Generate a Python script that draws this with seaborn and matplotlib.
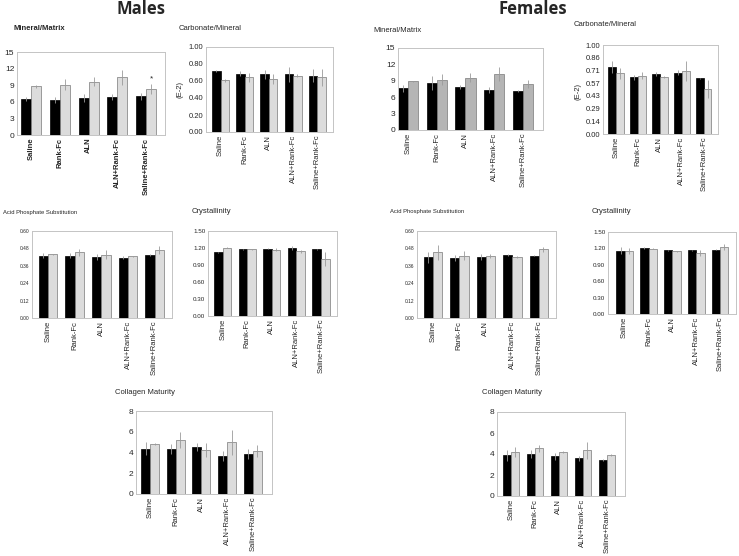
import numpy as np
import pandas as pd
import matplotlib
matplotlib.use("Agg")
import matplotlib.pyplot as plt
import seaborn as sns

# gruppi di trattamento
gruppi = ["Saline", "Rank-Fc", "ALN", "ALN+Rank-Fc", "Saline+Rank-Fc"]

# Maschi - valori (barra nera, barra grigia) e errori
m_minmat_a = [6.5, 6.3, 6.7, 6.85, 7.0]
m_minmat_b = [8.8, 9.1, 9.6, 10.4, 8.35]
m_minmat_ea = [0.3, 0.6, 0.7, 0.6, 0.6]
m_minmat_eb = [0.3, 1.0, 0.8, 1.3, 0.9]

m_carb_a = [0.718, 0.686, 0.678, 0.678, 0.663]
m_carb_b = [0.608, 0.643, 0.620, 0.663, 0.647]
m_carb_ea = [0.015, 0.03, 0.05, 0.09, 0.08]
m_carb_eb = [0.02, 0.05, 0.06, 0.02, 0.10]

m_aps_a = [0.431, 0.431, 0.418, 0.415, 0.434]
m_aps_b = [0.438, 0.452, 0.436, 0.425, 0.468]
m_aps_ea = [0.015, 0.015, 0.02, 0.01, 0.005]
m_aps_eb = [0.005, 0.025, 0.03, 0.003, 0.03]

m_cryst_a = [1.124, 1.176, 1.188, 1.200, 1.176]
m_cryst_b = [1.206, 1.176, 1.170, 1.140, 1.010]
m_cryst_ea = [0.01, 0.01, 0.01, 0.03, 0.01]
m_cryst_eb = [0.01, 0.01, 0.03, 0.02, 0.12]

m_coll_a = [4.38, 4.32, 4.54, 3.68, 3.84]
m_coll_b = [4.80, 5.20, 4.26, 4.99, 4.16]
m_coll_ea = [0.6, 0.5, 0.4, 0.5, 0.5]
m_coll_eb = [0.1, 0.8, 0.7, 1.2, 0.6]

# Femmine
f_minmat_a = [7.6, 8.6, 7.9, 7.3, 7.2]
f_minmat_b = [8.9, 9.2, 9.6, 10.3, 8.4]
f_minmat_ea = [0.6, 1.3, 0.4, 0.5, 0.2]
f_minmat_eb = [0.1, 1.0, 0.8, 1.3, 0.7]

f_carb_a = [0.750, 0.638, 0.675, 0.690, 0.627]
f_carb_b = [0.683, 0.657, 0.638, 0.709, 0.504]
f_carb_ea = [0.07, 0.03, 0.02, 0.03, 0.005]
f_carb_eb = [0.06, 0.04, 0.01, 0.11, 0.10]

f_aps_a = [0.418, 0.413, 0.418, 0.436, 0.431]
f_aps_b = [0.452, 0.429, 0.427, 0.420, 0.473]
f_aps_ea = [0.04, 0.02, 0.02, 0.005, 0.005]
f_aps_eb = [0.05, 0.03, 0.015, 0.005, 0.015]

f_cryst_a = [1.159, 1.207, 1.165, 1.165, 1.177]
f_cryst_b = [1.152, 1.195, 1.146, 1.116, 1.226]
f_cryst_ea = [0.06, 0.01, 0.01, 0.01, 0.01]
f_cryst_eb = [0.05, 0.01, 0.01, 0.06, 0.05]

f_coll_a = [3.86, 3.99, 3.77, 3.58, 3.45]
f_coll_b = [4.20, 4.53, 4.15, 4.37, 3.89]
f_coll_ea = [0.5, 0.4, 0.3, 0.2, 0.1]
f_coll_eb = [0.5, 0.3, 0.1, 0.8, 0.1]

W, H = 739, 556

sns.set_style("white")
plt.rcParams["font.family"] = ["Liberation Sans", "DejaVu Sans"]

fig = plt.figure(figsize=(W / 100, H / 100), dpi=100)


def box(l, r, t, b):
    return [l / W, 1 - b / H, (r - l) / W, (b - t) / H]


def pannello(rect, a, b, ea, eb, yticks, fmt, tick_fs, lab_fs=5.5,
             grigio="#dcdcdc", grassetto=False, xlim=(-0.6, 4.65)):
    ax = fig.add_axes(rect)
    df = pd.DataFrame({
        "gruppo": gruppi * 2,
        "serie": ["A"] * 5 + ["B"] * 5,
        "valore": list(a) + list(b),
    })
    sns.barplot(data=df, x="gruppo", y="valore", hue="serie",
                palette=["#000000", grigio], width=0.7, ax=ax,
                legend=False, errorbar=None, saturation=1)
    for cont, err, ec in zip(ax.containers, [ea, eb], ["#000000", "#7a7a7a"]):
        xs = []
        hs = []
        for p in cont:
            p.set_edgecolor(ec)
            p.set_linewidth(0.5)
            xs.append(p.get_x() + p.get_width() / 2)
            hs.append(p.get_height())
        ax.errorbar(xs, hs, yerr=err, fmt="none", ecolor="#9a9a9a",
                    elinewidth=0.6, capsize=0)
    ax.set_xlim(*xlim)
    ax.set_ylim(yticks[0], yticks[-1])
    ax.set_yticks(yticks)
    ax.set_yticklabels([fmt % v for v in yticks], fontsize=tick_fs)
    ax.set_xticks(range(5))
    ax.set_xticklabels(gruppi, rotation=90, fontsize=lab_fs,
                       fontweight="bold" if grassetto else "normal")
    ax.set_xlabel("")
    ax.set_ylabel("")
    ax.tick_params(axis="both", length=0, pad=2)
    for s in ax.spines.values():
        s.set_color("#c4c4c4")
        s.set_linewidth(0.7)
    return ax


def testo(x, y, s, **kw):
    fig.text(x / W, 1 - y / H, s, va="center", **kw)


# Maschi
ax1 = pannello(box(17, 165, 52, 135), m_minmat_a, m_minmat_b, m_minmat_ea,
               m_minmat_eb, [0, 3, 6, 9, 12, 15], "%d", 6, grassetto=True,
               xlim=(-0.5, 4.66))
g = ax1.containers[1][4]
ax1.text(g.get_x() + g.get_width() / 2, m_minmat_b[4] + m_minmat_eb[4] + 0.3,
         "*", ha="center", va="bottom", fontsize=6)
ax2 = pannello(box(206, 333, 47, 132), m_carb_a, m_carb_b, m_carb_ea, m_carb_eb,
               [0, 0.2, 0.4, 0.6, 0.8, 1.0], "%.2f", 5.5)
pannello(box(32, 172, 231, 318), m_aps_a, m_aps_b, m_aps_ea, m_aps_eb,
         [0, 0.12, 0.24, 0.36, 0.48, 0.60], "%.2f", 3.5)
pannello(box(208, 337, 231, 316), m_cryst_a, m_cryst_b, m_cryst_ea, m_cryst_eb,
         [0, 0.3, 0.6, 0.9, 1.2, 1.5], "%.2f", 4.5)
pannello(box(136, 272, 411, 494), m_coll_a, m_coll_b, m_coll_ea, m_coll_eb,
         [0, 2, 4, 6, 8], "%d", 6, xlim=(-0.55, 4.75))

# Femmine
pannello(box(398, 543, 48, 130), f_minmat_a, f_minmat_b, f_minmat_ea,
         f_minmat_eb, [0, 3, 6, 9, 12, 15], "%d", 6, grigio="#b5b5b5",
         xlim=(-0.35, 4.7))
pannello(box(603, 718, 45, 134), f_carb_a, f_carb_b, f_carb_ea, f_carb_eb,
         list(np.linspace(0, 1, 8)), "%.2f", 5.5)
pannello(box(417, 556, 231, 318), f_aps_a, f_aps_b, f_aps_ea, f_aps_eb,
         [0, 0.12, 0.24, 0.36, 0.48, 0.60], "%.2f", 3.5)
pannello(box(608, 736, 232, 314), f_cryst_a, f_cryst_b, f_cryst_ea, f_cryst_eb,
         [0, 0.3, 0.6, 0.9, 1.2, 1.5], "%.2f", 4.5, xlim=(-0.7, 4.67))
pannello(box(497, 625, 412, 496), f_coll_a, f_coll_b, f_coll_ea, f_coll_eb,
         [0, 2, 4, 6, 8], "%d", 6, xlim=(-0.58, 4.75))

# titoli
testo(141, 9, "Males", ha="center", fontsize=12, fontweight="bold",
      family=["Open Sans", "DejaVu Sans"])
testo(533, 9, "Females", ha="center", fontsize=12, fontweight="bold",
      family=["Open Sans", "DejaVu Sans"])
testo(13, 29, "Mineral/Matrix", ha="left", fontsize=5.5, fontweight="bold")
testo(179, 29, "Carbonate/Mineral", ha="left", fontsize=5.5)
testo(373, 30, "Mineral/Matrix", ha="left", fontsize=5.5)
testo(574, 25, "Carbonate/Mineral", ha="left", fontsize=5.5)
testo(3, 212, "Acid Phosphate Substitution", ha="left", fontsize=4.2)
testo(192, 211, "Crystallinity", ha="left", fontsize=5.5)
testo(390, 211, "Acid Phosphate Substitution", ha="left", fontsize=4.2)
testo(592, 211, "Crystallinity", ha="left", fontsize=5.5)
testo(115, 392, "Collagen Maturity", ha="left", fontsize=5.5)
testo(482, 392, "Collagen Maturity", ha="left", fontsize=5.5)
testo(180, 90, "(E-2)", ha="center", fontsize=5.5, rotation=90)
testo(578, 92, "(E-2)", ha="center", fontsize=5.5, rotation=90)

fig.savefig("out.png", dpi=100)
